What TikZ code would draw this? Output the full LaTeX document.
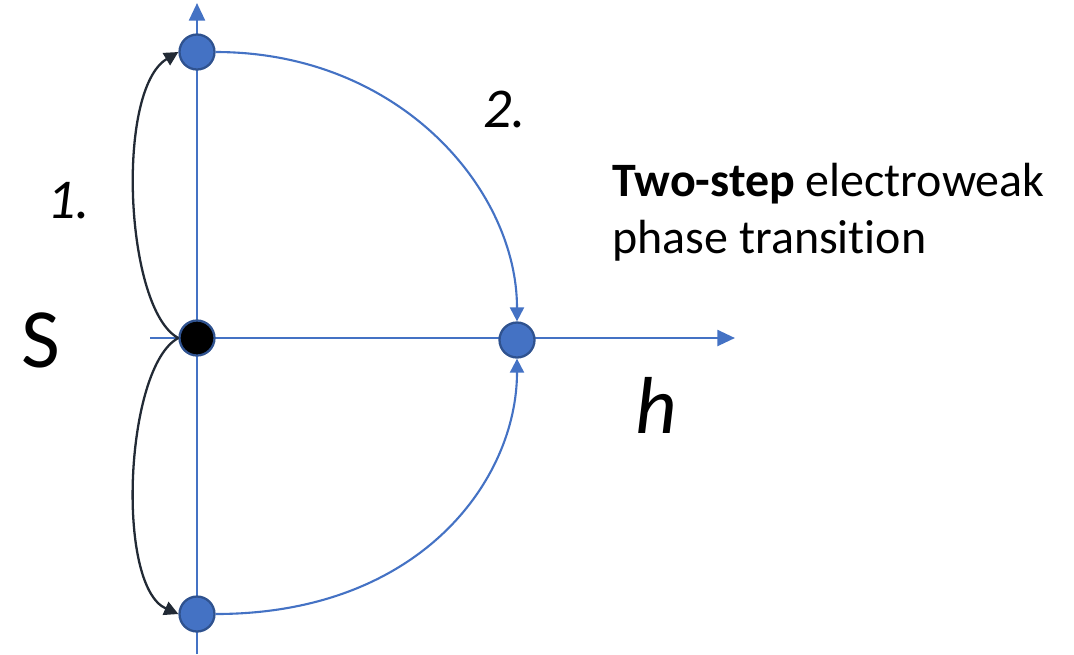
\documentclass[tikz,border=0pt]{standalone}
\usepackage{fontspec}
\setmainfont{Carlito}[Ligatures=NoCommon]
\definecolor{axisblue}{RGB}{68,114,196}
\definecolor{dotedge}{RGB}{47,82,143}
\definecolor{darkarc}{RGB}{34,42,53}
\usetikzlibrary{arrows.meta}

\begin{document}
\begin{tikzpicture}[
      x=0.02cm, y=-0.02cm,
      axis/.style   = {-{Triangle[length=10pt, width=9pt]}, line width=1.5pt, color=axisblue},
      dot/.style    = {circle, draw=dotedge, fill=axisblue, line width=1.3pt,
                       minimum size=0.7cm, inner sep=0pt},
      vac/.style    = {dot, fill=black},
      bluearc/.style= {-{Triangle[length=8pt, width=8pt]}, line width=1.2pt, color=axisblue},
      blackarc/.style= {-{Triangle[length=8pt, width=8pt]}, line width=1.3pt, color=darkarc},
      lbl/.style    = {inner sep=0pt, anchor=base west},
    ]
    \useasboundingbox (0,0) rectangle (1074,654);

    % axes
    \coordinate (ybot) at (197,654);
    \coordinate (ytop) at (197,3);
    \coordinate (xleft) at (150,338);
    \coordinate (xright) at (735,338);
    \draw[axis] (ybot) -- (ytop);
    \draw[axis] (xleft) -- (xright);

    % vacua
    \node[vac] (origin) at (197,338) {};
    \node[dot] (stop)   at (197,52)  {};
    \node[dot] (sbot)   at (197,614) {};
    \node[dot] (hvev)   at (517,340) {};

    % step 1
    \draw[blackarc] (origin.west) .. controls (125,310) and (115,90) .. (stop.west);
    \draw[blackarc] (origin.west) .. controls (125,366) and (115,586) .. (sbot.west);

    % step 2
    \draw[bluearc] (stop.east) .. controls (400,52) and (517,190) .. (hvev.north);
    \draw[bluearc] (sbot.east) .. controls (420,614) and (517,480) .. (hvev.south);

    % labels
    \node[lbl, font=\fontsize{48}{54}\selectfont] (slbl) at (21,367) {S};
    \node[lbl, font=\fontsize{46}{52}\selectfont\itshape] (hlbl) at (635,433) {h};
    \node[lbl, font=\fontsize{32}{38}\selectfont\itshape] (one) at (47,218) {1.};
    \node[lbl, font=\fontsize{32}{38}\selectfont\itshape] (two) at (483,127) {2.};
    \node[anchor=north west, inner sep=0pt, align=left,
          font=\fontsize{27.3}{32.5}\selectfont] (txt) at (612,163)
          {\textbf{Two-step} electroweak\\phase transition};
  \end{tikzpicture}
\end{document}
